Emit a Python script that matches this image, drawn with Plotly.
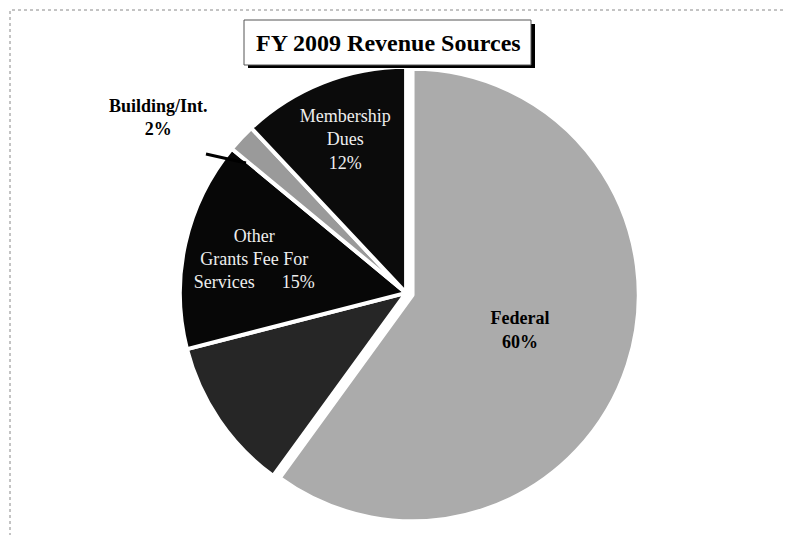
import plotly.graph_objects as go

# Data
labels = ["Federal", "State", "Other Grants Fee For Services", "Building/Int.", "Membership Dues"]
values = [60, 11, 15, 2, 12]
display_text = ["<b>Federal</b><br><b>%{percent:.0%}</b>", "", "Other<br>Grants Fee For<br>Services      %{percent:.0%}", "", "Membership<br>Dues<br>%{percent:.0%}"]
colors = ["#ababab", "#262626", "#070707", "#9a9a9a", "#0b0b0b"]
text_colors = ["#000000", "#ffffff", "#eeeeee", "#000000", "#eeeeee"]
pulls = [0.03, 0, 0, 0, 0]
title_text = "<b>FY 2009 Revenue Sources</b>"
SERIF = "Liberation Serif, Times New Roman, serif"

fig = go.Figure()
fig.add_trace(go.Pie(
    labels=labels,
    values=values,
    sort=False,
    direction="clockwise",
    rotation=0,
    pull=pulls,
    marker=dict(colors=colors, line=dict(color="white", width=4)),
    texttemplate=display_text,
    textposition="inside",
    insidetextorientation="horizontal",
    textfont=dict(family=SERIF, size=18, color=text_colors),
    showlegend=False,
    hoverinfo="label+percent",
    domain=dict(x=[0.208, 0.796], y=[0.032, 0.903]),
))

W, H = 793, 535
def px(x):
    return x / W
def py(y):
    return 1 - y / H

shapes = [
    # outer frame
    dict(type="rect", xref="paper", yref="paper", x0=px(2), x1=px(790), y0=py(531), y1=py(2),
         line=dict(color="#888888", width=1, dash="dot"), layer="above"),
    # title shadow
    dict(type="rect", xref="paper", yref="paper", x0=px(240), x1=px(527), y0=py(60), y1=py(16),
         fillcolor="#000000", line=dict(width=0), layer="above"),
    # title box
    dict(type="rect", xref="paper", yref="paper", x0=px(236), x1=px(523), y0=py(57), y1=py(12),
         fillcolor="#ffffff", line=dict(color="#555555", width=1), layer="above"),
    # leader line for Building/Int.
    dict(type="line", xref="paper", yref="paper", x0=px(198), y0=py(146), x1=px(238), y1=py(155),
         line=dict(color="#000000", width=3), layer="above"),
]

annotations = [
    dict(text=title_text, x=px(380), y=py(35), xref="paper", yref="paper", showarrow=False,
         font=dict(family=SERIF, size=24, color="#000000"), xanchor="center", yanchor="middle"),
    dict(text="<b>Building/Int.</b><br><b>2%</b>", x=px(150), y=py(109), xref="paper", yref="paper",
         showarrow=False, font=dict(family=SERIF, size=18, color="#000000"),
         xanchor="center", yanchor="middle"),
]

fig.update_layout(
    width=W, height=H,
    margin=dict(l=0, r=0, t=0, b=0),
    paper_bgcolor="white",
    plot_bgcolor="white",
    shapes=shapes,
    annotations=annotations,
)

fig.write_html("out.html")
